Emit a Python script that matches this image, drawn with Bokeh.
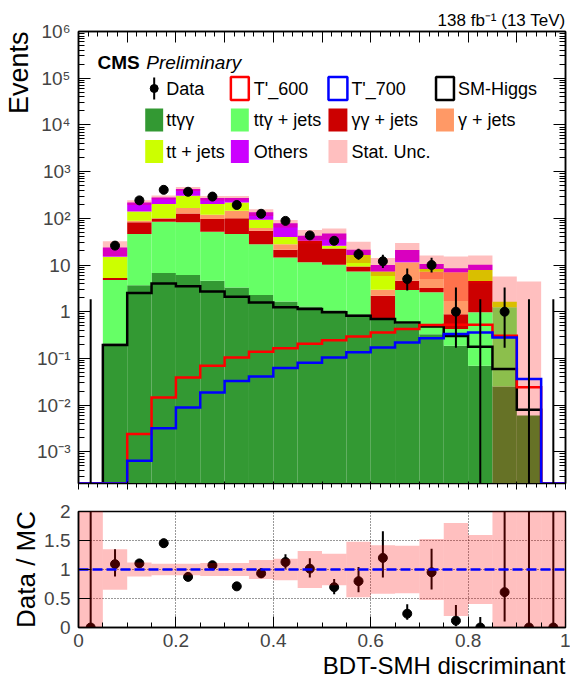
import math
from bokeh.plotting import figure
from bokeh.models import (Range1d, LinearAxis, LogAxis, SingleIntervalTicker,
                          FixedTicker, CustomJSTickFormatter, Title)
from bokeh.layouts import column
from bokeh.embed import file_html
from bokeh.resources import INLINE
from bokeh.core.properties import value

FONT = "Liberation Sans"

# ---------------- data ----------------
bin_edges = [0.00, 0.05, 0.10, 0.15, 0.20, 0.25, 0.30, 0.35, 0.40, 0.45, 0.50,
             0.55, 0.60, 0.65, 0.70, 0.75, 0.80, 0.85, 0.90, 0.95, 1.00]

# stacked backgrounds (bottom -> top)
tt_gg    = [0, 0.21, 3.7, 6.7, 6.1, 4.6, 3.3, 2.27, 1.66, 1.3, 1.08, 0.88, 0.72, 0.55, 0.33, 0.187, 0.07, 0.025, 0.006, 0]
ttg_jets = [0, 4.59, 42.3, 77.9, 75.9, 47.0, 42.7, 25.7, 12.8, 10.1, 9.0, 6.4, 0.0, 2.35, 2.27, 0.24, 0.9, 1.215, 0, 0]
gg_jets  = [0, 0.5, 36.0, 14.9, 45.0, 45.0, 54.0, 26.0, 6.8, 21.6, 12.6, 2.0, 1.48, 1.7, 0.6, 0.46, 3.6, 0, 0, 0]
g_jets   = [0, 0, 7.0, 1.0, 39.0, 22.4, 45.0, 8.0, 6.7, 0, 0, 0, 0.76, 6.8, 4.0, 6.1, 0, 0, 0, 0]
tt_jets  = [0, 9.7, 51.0, 101.5, 139.0, 83.0, 74.0, 31.0, 12.0, 0, 3.2, 7.1, 4.34, 0, 1.0, 0, 3.2, 0.4, 0, 0]
others   = [0, 8.8, 79.0, 78.0, 119.0, 70.0, 53.0, 41.0, 38.0, 9.4, 21.6, 4.9, 2.7, 9.6, 2.3, 1.5, 2.3, 0, 0, 0]
stat_unc = [0, 8.3, 26.0, 28.0, 42.0, 30.0, 30.0, 22.0, 14.4, 13.6, 12.8, 10.2, 4.2, 8.6, 5.5, 6.8, 6.0, 4.0, 4.4, 0]

# overlaid histograms
sm_higgs  = [0, 0.194, 2.5, 4.0, 3.5, 2.7, 2.1, 1.58, 1.24, 1.14, 0.97, 0.82, 0.70, 0.59, 0.485, 0.30, 0.178, 0.059, 0.008, 0]
tprime600 = [0, 0, 0.0024, 0.0146, 0.039, 0.07, 0.105, 0.139, 0.164, 0.205, 0.245, 0.296, 0.36, 0.425, 0.52, 0.527, 0.527, 0.306, 0.024, 0]
tprime700 = [0, 0, 0.00064, 0.0032, 0.0089, 0.0187, 0.033, 0.041, 0.062, 0.081, 0.104, 0.135, 0.172, 0.22, 0.27, 0.333, 0.36, 0.28, 0.036, 0]

# data with asymmetric (Poisson) errors
data        = [0, 26, 242, 407, 370, 292, 193, 125, 88, 43, 33, 17, 12, 5, 10, 1, 0, 1, 0, 0]
data_err_lo = [0, 5.1, 15.1, 19.7, 18.7, 16.6, 13.4, 10.7, 8.9, 6.5, 5.7, 4.1, 3.4, 2.16, 3.11, 0.83, 0, 0.83, 0, 0]
data_err_hi = [1.84, 6.1, 16.6, 21.2, 20.2, 18.1, 14.9, 12.2, 10.4, 7.6, 6.8, 5.2, 4.6, 3.38, 4.27, 2.30, 1.84, 2.30, 1.84, 1.84]

stack_names  = ["ttγγ", "ttγ + jets", "γγ + jets", "γ + jets", "tt + jets", "Others"]
stack_values = [tt_gg, ttg_jets, gg_jets, g_jets, tt_jets, others]
stack_colors = ["#339933", "#66ff66", "#cc0000", "#ff9966", "#ccff00", "#cc00ff"]

# ---------------- geometry helpers ----------------
NB = len(bin_edges) - 1
lefts = bin_edges[:-1]
rights = bin_edges[1:]
centers = [(a + b) / 2 for a, b in zip(lefts, rights)]

FRAME_L, FRAME_R = 76, 565
FRAME_T, FRAME_B = 31, 483
DECADE = 46.7
YMAX = 1e6
YMIN = 10 ** (6 - (FRAME_B - FRAME_T) / DECADE)
OFF = 1e-9


def xd(px):
    return (px - FRAME_L) / (FRAME_R - FRAME_L)


def yd(py):
    return 10 ** (6 - (py - FRAME_T) / DECADE)


def empty_fmt():
    return CustomJSTickFormatter(code="return '';")


def style_title(t, size, standoff):
    t.text_font = FONT
    t.text_font_size = size
    t.text_font_style = "normal"
    t.text_color = "black"
    if hasattr(t, "standoff"):
        t.standoff = standoff


# ---------------- top panel ----------------
p1 = figure(width=570, height=497, x_range=Range1d(0, 1), y_range=Range1d(YMIN, YMAX),
            y_axis_type="log", output_backend="svg", toolbar_location=None,
            min_border_left=FRAME_L, min_border_right=570 - FRAME_R,
            min_border_top=FRAME_T, min_border_bottom=14)
p1.grid.visible = False
p1.outline_line_color = "black"
p1.outline_line_width = 1.5

total = [0.0] * NB
for name, vals, col in zip(stack_names, stack_values, stack_colors):
    new = [t + v for t, v in zip(total, vals)]
    p1.quad(left=lefts, right=rights,
            bottom=[max(t, OFF) for t in total], top=[max(t, OFF) for t in new],
            fill_color=col, line_color=None)
    total = new

# stat. unc. band
bl, br, bb, bt = [], [], [], []
for i in range(NB):
    if total[i] > 0:
        bl.append(lefts[i]); br.append(rights[i])
        bb.append(max(total[i] - stat_unc[i], OFF)); bt.append(total[i] + stat_unc[i])
p1.quad(left=bl, right=br, bottom=bb, top=bt, fill_color="#ff0000", fill_alpha=0.25, line_color=None)


def step_xy(vals):
    xs, ys = [0.0], [YMIN]
    for i, v in enumerate(vals):
        vv = max(v, YMIN)
        xs += [lefts[i], rights[i]]
        ys += [vv, vv]
    xs.append(1.0); ys.append(YMIN)
    return xs, ys


for vals, col in [(sm_higgs, "black"), (tprime600, "#ff0000"), (tprime700, "#0000ff")]:
    xs, ys = step_xy(vals)
    p1.line(xs, ys, line_color=col, line_width=2.5, line_join="miter")

p1.segment(x0=centers, x1=centers,
           y0=[max(d - lo, OFF) for d, lo in zip(data, data_err_lo)],
           y1=[d + hi for d, hi in zip(data, data_err_hi)],
           line_color="black", line_width=2)
p1.scatter(centers, [max(d, OFF) for d in data], marker="circle", size=9,
           fill_color="black", line_color="black")

# axes of top panel
LOG_TICKS = [10.0 ** k for k in range(-3, 7)]
LOG_MINOR = [m * 10.0 ** k for k in range(-4, 6) for m in range(2, 10)]
p1.xaxis.ticker = SingleIntervalTicker(interval=0.1, num_minor_ticks=5)
p1.xaxis.formatter = empty_fmt()
p1.yaxis.ticker = FixedTicker(ticks=LOG_TICKS, minor_ticks=LOG_MINOR)
p1.yaxis.formatter = CustomJSTickFormatter(code=r"""
const e = Math.round(Math.log10(tick));
if (e === 0) return "1";
if (e === 1) return "10";
const sup = {"-": "\u207B", "0": "\u2070", "1": "\u00B9", "2": "\u00B2", "3": "\u00B3",
             "4": "\u2074", "5": "\u2075", "6": "\u2076", "7": "\u2077", "8": "\u2078", "9": "\u2079"};
return "10" + String(e).split("").map(c => sup[c]).join("");
""")

for ax in p1.xaxis:
    ax.major_label_standoff = 0
for ax in p1.yaxis:
    ax.major_label_text_font_size = "19px"
    ax.major_label_text_font = FONT
    ax.major_label_standoff = 8

top_ax = LinearAxis(ticker=SingleIntervalTicker(interval=0.1, num_minor_ticks=5),
                    formatter=empty_fmt(), major_label_standoff=0)
right_ax = LogAxis(ticker=FixedTicker(ticks=LOG_TICKS, minor_ticks=LOG_MINOR),
                   formatter=empty_fmt(), major_label_standoff=0)
p1.add_layout(top_ax, "above")
p1.add_layout(right_ax, "right")

for ax in [p1.xaxis[0], top_ax]:
    ax.major_tick_in = 11; ax.major_tick_out = 0
    ax.minor_tick_in = 5; ax.minor_tick_out = 0
    ax.axis_line_width = 1.5
for ax in [p1.yaxis[0], right_ax]:
    ax.major_tick_in = 12; ax.major_tick_out = 0
    ax.minor_tick_in = 6; ax.minor_tick_out = 0
    ax.axis_line_width = 1.5

# texts around the top frame (titles live outside the frame)
p1.title.text = "138 fb\u207b\u00b9 (13 TeV)"
p1.title.align = "right"
style_title(p1.title, "17px", 4)
t_events = Title(text="Events", align="right")
style_title(t_events, "27px", 2)
p1.add_layout(t_events, "left")

# CMS Preliminary
p1.text(x=[xd(95)], y=[yd(62)], text=["CMS"], text_font=value(FONT), text_font_size="19px",
        text_font_style="bold", text_baseline="alphabetic", text_align="left")
p1.text(x=[xd(144)], y=[yd(62)], text=["Preliminary"], text_font=value(FONT), text_font_size="19px",
        text_font_style="italic", text_baseline="alphabetic", text_align="left")

# legend (drawn by hand, 4 columns x 3 rows)
LEG_ROWS = [88, 119.5, 151]
LEG_COLS = [(143, 161, 164), (229, 247, 252), (327, 346, 350), (435, 453, 457)]
legend_items = [
    ("Data", "data", None),
    ("T'_600", "line", "#ff0000"),
    ("T'_700", "line", "#0000ff"),
    ("SM-Higgs", "line", "black"),
] + [(n, "fill", c) for n, c in zip(stack_names, stack_colors)] + [("Stat. Unc.", "unc", "#ff0000")]

for k, (label, kind, col) in enumerate(legend_items):
    r, c = divmod(k, 4)
    yc = LEG_ROWS[r]
    gl, gr, tx = LEG_COLS[c]
    if kind == "data":
        xm = xd((gl + gr) / 2)
        p1.segment(x0=[xm], x1=[xm], y0=[yd(yc + 11)], y1=[yd(yc - 11)], line_color="black", line_width=2)
        p1.scatter([xm], [yd(yc)], marker="circle", size=8, fill_color="black", line_color="black")
    elif kind == "line":
        p1.quad(left=[xd(gl)], right=[xd(gr)], bottom=[yd(yc + 11.5)], top=[yd(yc - 11.5)],
                fill_color=None, line_color=col, line_width=2.5)
    elif kind == "fill":
        p1.quad(left=[xd(gl)], right=[xd(gr)], bottom=[yd(yc + 11.5)], top=[yd(yc - 11.5)],
                fill_color=col, line_color=None)
    else:
        p1.quad(left=[xd(gl)], right=[xd(gr)], bottom=[yd(yc + 11.5)], top=[yd(yc - 11.5)],
                fill_color=col, fill_alpha=0.25, line_color=None)
    p1.text(x=[xd(tx)], y=[yd(yc)], text=[label], text_font=value(FONT), text_font_size="18px",
            text_baseline="middle", text_align="left", text_color="black")

# ---------------- ratio panel ----------------
p2 = figure(width=570, height=183, x_range=Range1d(0, 1), y_range=Range1d(0, 2),
            output_backend="svg", toolbar_location=None,
            min_border_left=FRAME_L, min_border_right=570 - FRAME_R,
            min_border_top=14, min_border_bottom=53)
p2.outline_line_color = "black"
p2.outline_line_width = 1.5
p2.grid.grid_line_color = "black"
p2.grid.grid_line_alpha = 0.8
p2.grid.grid_line_dash = "1 2"
p2.grid.grid_line_width = 1

ratio, r_lo, r_hi, band_lo, band_hi = [], [], [], [], []
for i in range(NB):
    t = total[i]
    if t > 0:
        ratio.append(data[i] / t)
        r_lo.append(data[i] / t - data_err_lo[i] / t)
        r_hi.append(min(data[i] / t + data_err_hi[i] / t, 3.0))
        band_lo.append(max(1 - stat_unc[i] / t, -1.0))
        band_hi.append(min(1 + stat_unc[i] / t, 3.0))
    else:
        ratio.append(0.0); r_lo.append(0.0); r_hi.append(3.0)
        band_lo.append(-1.0); band_hi.append(3.0)

p2.segment(x0=centers, x1=centers, y0=r_lo, y1=r_hi, line_color="black", line_width=2)
p2.scatter(centers, ratio, marker="circle", size=9, fill_color="black", line_color="black")
p2.quad(left=lefts, right=rights, bottom=band_lo, top=band_hi,
        fill_color="#ff0000", fill_alpha=0.25, line_color=None)
p2.line([0, 1], [1, 1], line_color="#0000ff", line_width=2.5, line_dash="10 4")

p2.xaxis.ticker = SingleIntervalTicker(interval=0.2, num_minor_ticks=4)
p2.yaxis.ticker = FixedTicker(ticks=[0, 0.5, 1, 1.5, 2], minor_ticks=[])
fmt = "return (Math.round(tick * 10) / 10).toString();"
p2.xaxis.formatter = CustomJSTickFormatter(code=fmt)
p2.yaxis.formatter = CustomJSTickFormatter(code=fmt)
for ax in p2.xaxis:
    ax.major_tick_in = 11; ax.major_tick_out = 0
    ax.minor_tick_in = 5; ax.minor_tick_out = 0
    ax.major_label_text_font_size = "19px"
    ax.major_label_text_font = FONT
    ax.major_label_standoff = 6
    ax.axis_line_width = 1.5
for ax in p2.yaxis:
    ax.major_tick_in = 12; ax.major_tick_out = 0
    ax.minor_tick_in = 0; ax.minor_tick_out = 0
    ax.major_label_text_font_size = "19px"
    ax.major_label_text_font = FONT
    ax.major_label_standoff = 8
    ax.axis_line_width = 1.5

t_x = Title(text="BDT-SMH discriminant", align="right")
style_title(t_x, "24px", 0)
p2.add_layout(t_x, "below")
t_r = Title(text="Data / MC", align="center")
style_title(t_r, "26px", 2)
p2.add_layout(t_r, "left")

layout = column(p1, p2)
open("out.html", "w").write(file_html(layout, INLINE))
